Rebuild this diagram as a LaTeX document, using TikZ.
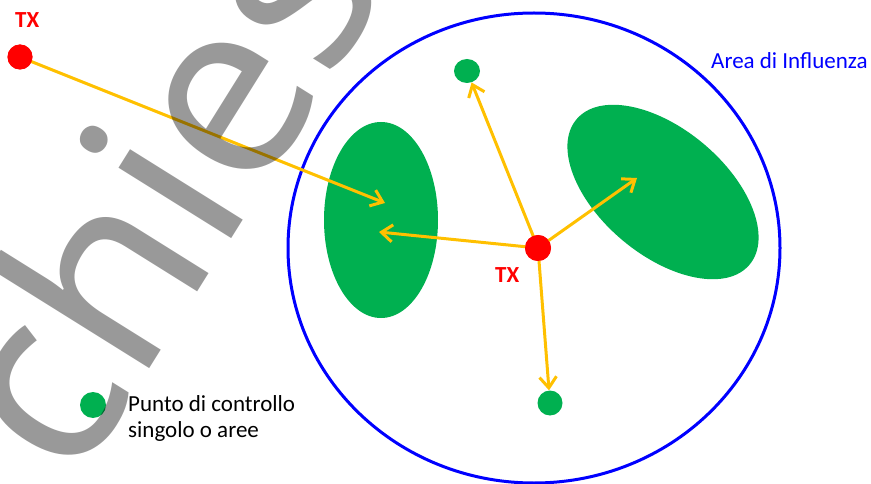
\documentclass[tikz,border=0pt]{standalone}
\usepackage{fontspec}
\setmainfont{Carlito}
\newfontfamily\wmfamily{Noto Sans}
\usetikzlibrary{arrows.meta,shapes.geometric}
\definecolor{arrowgold}{RGB}{255,192,0}
\definecolor{areagreen}{RGB}{0,176,80}
\definecolor{txred}{RGB}{255,0,0}
\definecolor{areablue}{RGB}{0,0,255}
\newcommand\wmfont{\wmfamily\fontsize{248}{250}\selectfont}
\tikzset{
  greenarea/.style={ellipse,fill=areagreen,inner sep=0pt,draw=none},
  greendot/.style={circle,fill=areagreen,inner sep=0pt,minimum size=25pt},
  txdot/.style={circle,fill=txred,inner sep=0pt,minimum size=25pt},
  txlabel/.style={text=txred,font=\fontsize{23}{27}\selectfont\bfseries,inner sep=0pt,anchor=base west},
  ray/.style={draw=arrowgold,line width=3pt,-{Straight Barb[length=11pt,width=17pt]}},
  legendtext/.style={font=\fontsize{23}{27}\selectfont,inner sep=0pt,anchor=base west},
  watermark/.style={rotate=58,inner sep=0pt,text=black,text opacity=0.4,font=\wmfont},
}
\begin{document}
\begin{tikzpicture}[x=1pt,y=-1pt]
\path[use as bounding box] (0,0) rectangle (871,484);
% influence area
\node[ellipse,draw=areablue,line width=3pt,minimum width=492pt,minimum height=470pt,inner sep=0pt] (area) at (534,248) {};
\node[text=areablue,font=\fontsize{23}{27}\selectfont,inner sep=0pt,anchor=base west] (arealabel) at (711,69) {Area di Influenza};
% green areas
\node[greenarea,minimum width=114pt,minimum height=196pt] (left) at (381,220) {};
\node[greenarea,minimum width=226pt,minimum height=126pt,rotate=-40] (right) at (663,192) {};
\coordinate (lefttipA) at (385,203);
\coordinate (lefttipB) at (379,232);
\coordinate (righttip) at (637,178);
% control points
\node[greendot,minimum width=26pt,minimum height=24pt,ellipse] (topdot) at (467,71) {};
\node[greendot] (botdot) at (550,403) {};
% transmitters
\node[txdot] (tx1) at (20,57) {};
\node[txdot,minimum size=26pt] (tx2) at (538,248) {};
% rays
\draw[ray] (tx1.center) -- (lefttipA);
\draw[ray] (tx2.center) -- (lefttipB);
\draw[ray] (tx2.center) -- (topdot);
\draw[ray] (tx2.center) -- (righttip);
\draw[ray] (tx2.center) -- (botdot);
\node[txdot] at (20,57) {};
\node[txdot,minimum size=26pt] at (538,248) {};
% labels
\node[txlabel] (tx1label) at (15,28) {TX};
\node[txlabel] (tx2label) at (495,283) {TX};
% legend
\node[greendot,minimum size=26pt] (legdot) at (93,405) {};
\node[legendtext] (leg1) at (128,411) {Punto di controllo};
\node[legendtext] (leg2) at (128,437) {singolo o aree};
% watermark
\coordinate (wmsplit) at (220,257);
\node[watermark,anchor=base east] (wmA) at (wmsplit) {Arch};
\node[watermark,anchor=base west] (wmB) at (wmsplit) {ies};
\end{tikzpicture}
\end{document}
